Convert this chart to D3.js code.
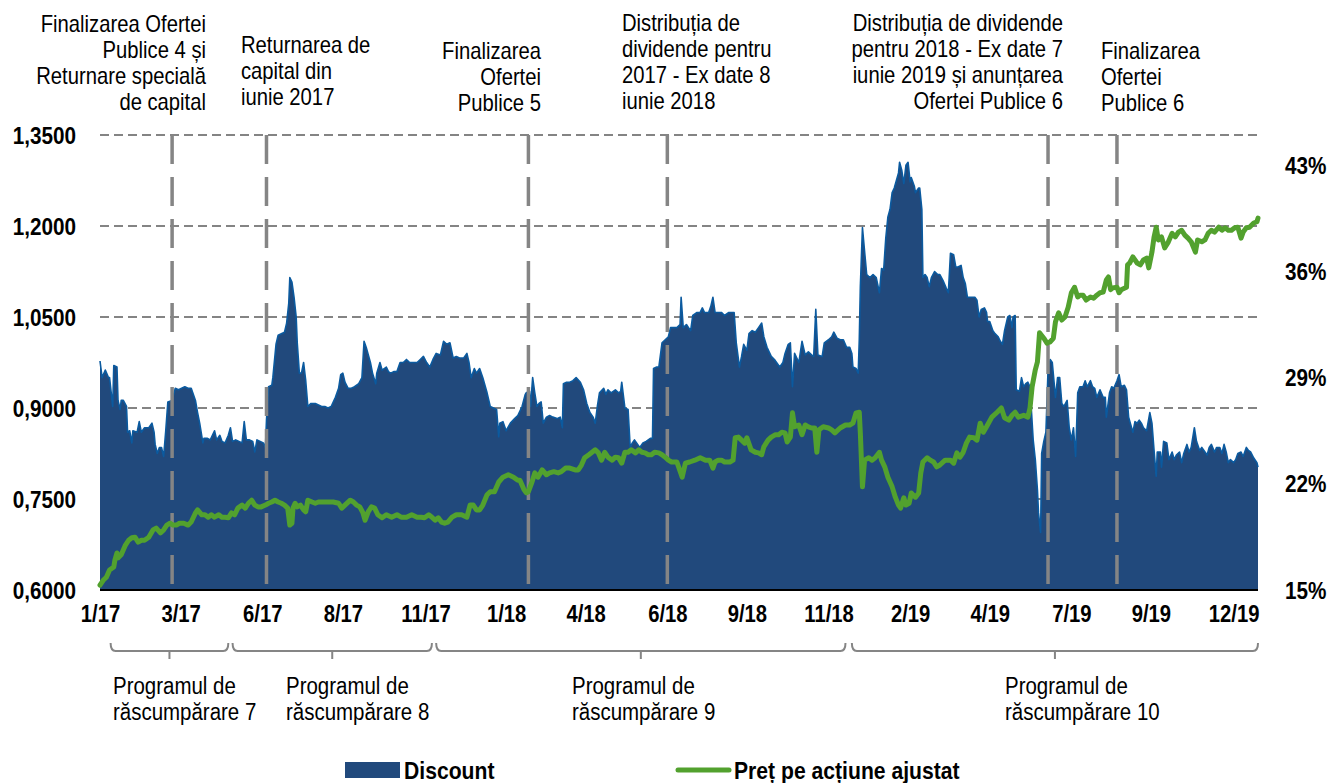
<!DOCTYPE html>
<html><head><meta charset="utf-8">
<script src="https://cdn.jsdelivr.net/npm/d3@7"></script>
<style>
html,body{margin:0;padding:0;background:#fff;}
svg{display:block;}
text{font-family:"Liberation Sans",Arial,sans-serif;fill:#000;}
</style></head><body>
<svg id="chart" width="1329" height="783"></svg>
<script>
// ---------- DATA ----------
// Discount (%), right axis
const discount = [
["2017-01-03",30.1],["2017-01-05",29.0],["2017-01-08",29.5],["2017-01-11",29.0],["2017-01-12",29.0],["2017-01-15",27.1],["2017-01-16",29.8],["2017-01-19",29.7],["2017-01-20",27.5],["2017-01-22",26.9],["2017-01-23",27.5],["2017-01-25",27.5],["2017-01-28",27.1],["2017-01-29",25.4],["2017-01-31",25.5],
["2017-02-02",24.7],["2017-02-03",25.5],["2017-02-07",25.4],["2017-02-09",26.1],["2017-02-11",25.4],["2017-02-14",25.7],["2017-02-18",25.7],["2017-02-21",26.0],["2017-02-23",25.4],["2017-02-24",24.6],["2017-02-26",24.0],["2017-02-28",24.4],
["2017-03-02",24.4],["2017-03-04",23.8],["2017-03-06",25.5],["2017-03-08",27.4],["2017-03-12",27.5],["2017-03-15",28.3],["2017-03-18",28.2],["2017-03-21",28.3],["2017-03-24",28.4],["2017-03-27",28.3],["2017-03-30",28.3],
["2017-04-03",27.5],["2017-04-05",26.7],["2017-04-07",26.0],["2017-04-10",24.7],["2017-04-11",25.0],["2017-04-14",25.0],["2017-04-17",24.9],["2017-04-21",25.5],["2017-04-23",24.9],["2017-04-26",25.2],["2017-04-28",24.8],
["2017-05-01",24.7],["2017-05-04",25.2],["2017-05-06",25.7],["2017-05-08",24.8],["2017-05-11",24.9],["2017-05-14",24.8],["2017-05-17",24.7],["2017-05-19",26.1],["2017-05-21",24.9],["2017-05-24",24.9],["2017-05-27",24.8],["2017-05-29",24.1],["2017-05-31",24.9],
["2017-06-03",24.8],["2017-06-06",24.7],["2017-06-08",24.4],["2017-06-09",26.2],["2017-06-11",28.4],["2017-06-14",28.5],["2017-06-15",29.0],["2017-06-18",31.2],["2017-06-20",31.8],["2017-06-23",31.9],["2017-06-26",32.0],["2017-06-28",32.6],["2017-06-30",33.9],
["2017-07-01",35.6],["2017-07-03",35.3],["2017-07-05",34.3],["2017-07-07",33.0],["2017-07-08",31.3],["2017-07-10",29.3],["2017-07-12",29.3],["2017-07-14",30.0],["2017-07-16",28.8],["2017-07-18",27.1],["2017-07-21",27.3],["2017-07-25",27.3],["2017-07-28",27.2],["2017-07-31",27.1],
["2017-08-03",27.1],["2017-08-06",27.0],["2017-08-09",27.1],["2017-08-13",27.7],["2017-08-16",28.3],["2017-08-18",29.2],["2017-08-20",29.3],["2017-08-22",28.7],["2017-08-25",28.3],["2017-08-28",28.3],["2017-08-31",28.4],
["2017-09-04",28.6],["2017-09-07",29.0],["2017-09-09",31.4],["2017-09-11",31.0],["2017-09-15",30.0],["2017-09-17",29.3],["2017-09-20",28.6],["2017-09-21",29.3],["2017-09-24",30.0],["2017-09-26",29.5],["2017-09-30",29.7],
["2017-10-02",29.4],["2017-10-04",29.3],["2017-10-07",29.4],["2017-10-10",29.4],["2017-10-13",30.0],["2017-10-16",30.0],["2017-10-19",30.2],["2017-10-22",30.0],["2017-10-25",30.0],["2017-10-29",30.0],
["2017-11-01",30.2],["2017-11-04",30.4],["2017-11-07",30.0],["2017-11-10",29.7],["2017-11-13",30.2],["2017-11-16",30.6],["2017-11-20",30.5],["2017-11-23",31.4],["2017-11-26",31.2],["2017-11-29",31.3],
["2017-12-02",30.3],["2017-12-05",30.4],["2017-12-08",30.3],["2017-12-12",30.3],["2017-12-15",30.6],["2017-12-17",30.0],["2017-12-19",29.0],["2017-12-22",29.6],["2017-12-24",29.3],["2017-12-27",29.6],["2017-12-30",29.0],
["2018-01-03",28.0],["2018-01-06",27.1],["2018-01-09",27.0],["2018-01-12",26.9],["2018-01-14",25.1],["2018-01-15",26.0],["2018-01-18",26.1],["2018-01-21",25.5],["2018-01-25",26.0],["2018-01-29",26.3],
["2018-02-01",26.5],["2018-02-05",27.1],["2018-02-08",27.9],["2018-02-09",28.0],["2018-02-12",28.1],["2018-02-13",27.1],["2018-02-15",29.0],["2018-02-17",28.0],["2018-02-19",27.1],["2018-02-21",27.3],["2018-02-23",27.4],["2018-02-25",26.0],["2018-02-28",26.4],
["2018-03-03",26.5],["2018-03-06",26.4],["2018-03-10",26.3],["2018-03-13",26.4],["2018-03-15",25.7],["2018-03-16",28.6],["2018-03-19",28.7],["2018-03-22",28.7],["2018-03-25",28.8],["2018-03-28",29.0],
["2018-04-01",28.7],["2018-04-04",28.2],["2018-04-07",27.3],["2018-04-10",26.7],["2018-04-13",26.4],["2018-04-15",26.0],["2018-04-17",27.1],["2018-04-19",28.0],["2018-04-23",28.3],["2018-04-25",27.9],["2018-04-27",28.2],["2018-04-30",28.0],
["2018-05-04",28.2],["2018-05-07",28.0],["2018-05-09",28.1],["2018-05-10",28.7],["2018-05-13",27.0],["2018-05-16",26.9],["2018-05-18",24.4],["2018-05-20",24.7],["2018-05-22",24.9],["2018-05-25",24.6],["2018-05-27",24.4],["2018-05-30",24.7],
["2018-06-02",24.8],["2018-06-06",25.0],["2018-06-08",25.0],["2018-06-09",29.6],["2018-06-12",29.7],["2018-06-14",29.7],["2018-06-17",31.3],["2018-06-20",31.5],["2018-06-23",31.7],["2018-06-25",32.3],["2018-06-28",32.3],
["2018-07-01",32.3],["2018-07-04",32.5],["2018-07-05",34.3],["2018-07-07",32.3],["2018-07-10",32.5],["2018-07-12",32.3],["2018-07-14",32.1],["2018-07-16",33.1],["2018-07-20",33.3],["2018-07-23",33.3],["2018-07-25",33.6],["2018-07-27",33.3],["2018-07-31",33.3],
["2018-08-02",33.7],["2018-08-04",34.3],["2018-08-06",33.3],["2018-08-09",33.3],["2018-08-12",33.3],["2018-08-15",33.1],["2018-08-19",33.3],["2018-08-22",33.3],["2018-08-24",33.3],["2018-08-26",31.3],["2018-08-29",29.7],["2018-08-31",30.4],
["2018-09-02",31.2],["2018-09-05",30.8],["2018-09-07",31.9],["2018-09-10",32.1],["2018-09-13",32.0],["2018-09-16",32.3],["2018-09-19",32.6],["2018-09-21",31.7],["2018-09-24",31.0],["2018-09-26",30.7],["2018-09-28",30.4],
["2018-10-01",30.2],["2018-10-03",30.0],["2018-10-06",29.7],["2018-10-09",30.0],["2018-10-11",30.6],["2018-10-14",31.2],["2018-10-16",31.3],["2018-10-18",28.4],["2018-10-20",30.6],["2018-10-24",30.0],["2018-10-27",31.4],["2018-10-30",30.5],
["2018-11-02",30.7],["2018-11-05",30.5],["2018-11-07",30.4],["2018-11-09",33.5],["2018-11-11",30.5],["2018-11-15",30.4],["2018-11-17",31.3],["2018-11-21",31.5],["2018-11-24",31.7],["2018-11-26",32.0],["2018-11-29",31.6],
["2018-12-02",31.5],["2018-12-05",31.5],["2018-12-08",31.0],["2018-12-11",31.0],["2018-12-13",30.6],["2018-12-14",29.7],["2018-12-17",29.6],["2018-12-19",29.3],["2018-12-20",31.5],["2018-12-21",35.0],["2018-12-23",38.9],["2018-12-24",38.1],["2018-12-27",35.8],["2018-12-30",35.6],
["2019-01-02",35.8],["2019-01-05",35.6],["2019-01-08",34.6],["2019-01-10",36.2],["2019-01-12",36.1],["2019-01-14",38.2],["2019-01-16",39.6],["2019-01-18",40.1],["2019-01-20",41.2],["2019-01-22",41.5],["2019-01-24",42.0],["2019-01-26",42.5],["2019-01-27",43.2],["2019-01-29",42.7],["2019-01-31",41.8],
["2019-02-02",43.0],["2019-02-04",43.2],["2019-02-06",41.9],["2019-02-07",42.2],["2019-02-10",41.6],["2019-02-11",41.2],["2019-02-14",41.5],["2019-02-15",41.5],["2019-02-17",40.1],["2019-02-18",35.6],["2019-02-20",35.8],["2019-02-22",35.6],["2019-02-24",35.0],["2019-02-26",35.6],
["2019-03-01",36.0],["2019-03-04",35.8],["2019-03-06",35.8],["2019-03-09",35.4],["2019-03-12",34.9],["2019-03-14",34.6],["2019-03-16",37.2],["2019-03-19",37.1],["2019-03-21",36.3],["2019-03-23",36.3],["2019-03-26",36.4],["2019-03-28",35.6],["2019-03-30",35.2],
["2019-04-01",34.3],["2019-04-03",34.3],["2019-04-06",34.3],["2019-04-08",34.3],["2019-04-10",34.1],["2019-04-12",33.0],["2019-04-14",33.5],["2019-04-17",33.6],["2019-04-19",33.3],["2019-04-20",32.7],["2019-04-22",32.7],["2019-04-25",32.1],["2019-04-27",31.9],["2019-04-30",31.7],
["2019-05-02",31.4],["2019-05-04",31.2],["2019-05-06",32.1],["2019-05-09",33.0],["2019-05-11",33.1],["2019-05-13",32.3],["2019-05-14",33.0],["2019-05-16",33.1],["2019-05-17",28.2],["2019-05-20",28.1],["2019-05-22",29.0],["2019-05-24",28.4],["2019-05-26",28.6],["2019-05-28",28.7],["2019-05-30",28.4],
["2019-06-02",24.9],["2019-06-04",23.6],["2019-06-06",21.6],["2019-06-07",20.1],["2019-06-09",18.8],["2019-06-10",24.0],["2019-06-12",24.8],["2019-06-14",25.4],["2019-06-16",29.5],["2019-06-18",30.2],["2019-06-20",30.0],["2019-06-23",27.7],["2019-06-25",29.0],["2019-06-27",29.0],["2019-06-29",27.3],
["2019-07-01",27.1],["2019-07-04",27.5],["2019-07-06",25.7],["2019-07-08",24.9],["2019-07-10",25.7],["2019-07-12",23.8],["2019-07-14",28.0],["2019-07-16",28.4],["2019-07-19",28.4],["2019-07-21",28.8],["2019-07-23",28.4],["2019-07-26",28.8],["2019-07-28",28.4],["2019-07-30",28.3],
["2019-08-01",27.7],["2019-08-04",28.2],["2019-08-07",27.7],["2019-08-09",27.7],["2019-08-10",26.4],["2019-08-13",28.0],["2019-08-15",28.4],["2019-08-17",28.3],["2019-08-20",28.8],["2019-08-22",29.2],["2019-08-24",28.4],["2019-08-27",28.5],["2019-08-29",28.2],["2019-08-31",26.4],
["2019-09-02",25.9],["2019-09-04",25.4],["2019-09-06",26.1],["2019-09-08",26.0],["2019-09-10",26.2],["2019-09-12",26.0],["2019-09-14",25.7],["2019-09-17",25.5],["2019-09-20",26.7],["2019-09-22",26.0],["2019-09-24",24.2],["2019-09-26",22.5],["2019-09-27",24.1],["2019-09-30",24.1],
["2019-10-01",23.1],["2019-10-03",24.8],["2019-10-06",24.7],["2019-10-08",23.6],["2019-10-11",24.1],["2019-10-13",23.6],["2019-10-15",23.9],["2019-10-18",24.1],["2019-10-20",23.4],["2019-10-22",24.0],["2019-10-25",24.6],["2019-10-27",24.1],["2019-10-29",24.4],
["2019-11-01",25.7],["2019-11-03",24.8],["2019-11-06",24.2],["2019-11-08",24.4],["2019-11-10",24.2],["2019-11-13",23.9],["2019-11-15",24.4],["2019-11-17",24.6],["2019-11-20",24.1],["2019-11-22",24.4],["2019-11-25",24.4],["2019-11-27",24.0],["2019-11-29",24.6],
["2019-12-01",24.1],["2019-12-03",23.4],["2019-12-05",23.6],["2019-12-08",23.4],["2019-12-10",23.6],["2019-12-12",24.0],["2019-12-15",24.1],["2019-12-17",23.8],["2019-12-20",24.4],["2019-12-22",24.2],["2019-12-24",24.1],["2019-12-27",23.7],["2019-12-30",23.4],["2019-12-31",23.1]
];

// Adjusted price per share, left axis
const price = [
["2017-01-03",0.608],["2017-01-06",0.616],["2017-01-09",0.621],["2017-01-12",0.633],["2017-01-16",0.638],["2017-01-17",0.649],["2017-01-19",0.661],["2017-01-20",0.653],["2017-01-23",0.658],["2017-01-27",0.674],["2017-01-30",0.682],
["2017-02-02",0.686],["2017-02-05",0.687],["2017-02-08",0.679],["2017-02-11",0.682],["2017-02-14",0.682],["2017-02-18",0.687],["2017-02-22",0.699],["2017-02-25",0.702],
["2017-03-01",0.694],["2017-03-04",0.699],["2017-03-07",0.707],["2017-03-10",0.710],["2017-03-13",0.707],["2017-03-16",0.707],["2017-03-19",0.710],["2017-03-23",0.710],["2017-03-27",0.707],["2017-03-30",0.712],
["2017-04-03",0.727],["2017-04-05",0.732],["2017-04-09",0.724],["2017-04-12",0.724],["2017-04-15",0.720],["2017-04-18",0.724],["2017-04-21",0.720],["2017-04-25",0.724],["2017-04-28",0.720],
["2017-05-01",0.720],["2017-05-04",0.719],["2017-05-07",0.727],["2017-05-10",0.724],["2017-05-13",0.735],["2017-05-17",0.740],["2017-05-20",0.735],["2017-05-23",0.743],["2017-05-26",0.748],["2017-05-29",0.740],
["2017-06-01",0.737],["2017-06-04",0.737],["2017-06-08",0.740],["2017-06-11",0.743],["2017-06-14",0.745],["2017-06-17",0.748],["2017-06-20",0.745],["2017-06-23",0.743],["2017-06-26",0.740],["2017-06-29",0.735],
["2017-07-01",0.707],["2017-07-03",0.710],["2017-07-04",0.735],["2017-07-06",0.743],["2017-07-08",0.737],["2017-07-11",0.740],["2017-07-14",0.732],["2017-07-16",0.729],["2017-07-18",0.748],["2017-07-22",0.745],["2017-07-25",0.743],["2017-07-28",0.745],
["2017-08-02",0.745],["2017-08-06",0.745],["2017-08-11",0.745],["2017-08-16",0.743],["2017-08-19",0.735],["2017-08-22",0.740],["2017-08-27",0.748],["2017-08-30",0.745],
["2017-09-02",0.740],["2017-09-05",0.737],["2017-09-08",0.727],["2017-09-10",0.715],["2017-09-13",0.729],["2017-09-16",0.737],["2017-09-19",0.735],["2017-09-22",0.724],["2017-09-26",0.719],["2017-09-30",0.724],
["2017-10-05",0.720],["2017-10-10",0.724],["2017-10-14",0.720],["2017-10-19",0.720],["2017-10-24",0.724],["2017-10-29",0.720],
["2017-11-02",0.720],["2017-11-05",0.719],["2017-11-09",0.724],["2017-11-12",0.720],["2017-11-15",0.715],["2017-11-18",0.719],["2017-11-21",0.712],["2017-11-24",0.710],["2017-11-27",0.712],
["2017-12-01",0.720],["2017-12-05",0.724],["2017-12-10",0.724],["2017-12-15",0.720],["2017-12-18",0.740],["2017-12-21",0.740],["2017-12-24",0.732],["2017-12-27",0.732],["2017-12-30",0.740],
["2018-01-03",0.757],["2018-01-06",0.762],["2018-01-10",0.762],["2018-01-14",0.778],["2018-01-18",0.786],["2018-01-23",0.790],["2018-01-28",0.786],
["2018-02-01",0.781],["2018-02-03",0.781],["2018-02-07",0.765],["2018-02-09",0.760],["2018-02-11",0.762],["2018-02-14",0.776],["2018-02-17",0.793],["2018-02-20",0.786],["2018-02-24",0.798],["2018-02-28",0.790],
["2018-03-03",0.793],["2018-03-07",0.795],["2018-03-11",0.793],["2018-03-14",0.795],["2018-03-18",0.801],["2018-03-22",0.801],["2018-03-27",0.798],["2018-03-30",0.798],
["2018-04-02",0.806],["2018-04-05",0.818],["2018-04-09",0.823],["2018-04-12",0.827],["2018-04-15",0.831],["2018-04-18",0.826],["2018-04-21",0.814],["2018-04-24",0.827],["2018-04-27",0.819],
["2018-05-01",0.814],["2018-05-04",0.819],["2018-05-07",0.818],["2018-05-10",0.809],["2018-05-13",0.827],["2018-05-16",0.827],["2018-05-19",0.831],["2018-05-23",0.826],["2018-05-26",0.831],["2018-05-29",0.827],
["2018-06-01",0.826],["2018-06-04",0.823],["2018-06-07",0.823],["2018-06-10",0.827],["2018-06-14",0.826],["2018-06-17",0.823],["2018-06-20",0.819],["2018-06-23",0.814],["2018-06-26",0.811],
["2018-07-01",0.811],["2018-07-06",0.786],["2018-07-09",0.809],["2018-07-13",0.811],["2018-07-18",0.814],["2018-07-23",0.818],["2018-07-28",0.814],
["2018-08-01",0.814],["2018-08-04",0.801],["2018-08-06",0.811],["2018-08-09",0.814],["2018-08-12",0.814],["2018-08-15",0.811],["2018-08-20",0.811],["2018-08-23",0.814],["2018-08-25",0.851],["2018-08-28",0.852],["2018-08-31",0.847],
["2018-09-03",0.842],["2018-09-05",0.851],["2018-09-09",0.831],["2018-09-13",0.827],["2018-09-16",0.826],["2018-09-19",0.823],["2018-09-21",0.836],["2018-09-25",0.847],["2018-09-28",0.852],
["2018-10-02",0.856],["2018-10-05",0.856],["2018-10-08",0.860],["2018-10-11",0.859],["2018-10-13",0.844],["2018-10-16",0.852],["2018-10-18",0.892],["2018-10-20",0.869],["2018-10-24",0.872],["2018-10-27",0.856],["2018-10-30",0.872],
["2018-11-02",0.869],["2018-11-05",0.867],["2018-11-08",0.867],["2018-11-10",0.827],["2018-11-12",0.864],["2018-11-16",0.869],["2018-11-21",0.867],["2018-11-24",0.864],["2018-11-27",0.859],
["2018-12-02",0.867],["2018-12-07",0.872],["2018-12-11",0.872],["2018-12-14",0.875],["2018-12-17",0.892],["2018-12-20",0.893],["2018-12-21",0.859],["2018-12-23",0.770],["2018-12-25",0.814],["2018-12-29",0.818],
["2019-01-01",0.814],["2019-01-04",0.818],["2019-01-08",0.827],["2019-01-10",0.814],["2019-01-13",0.803],["2019-01-16",0.786],["2019-01-20",0.770],["2019-01-23",0.753],["2019-01-26",0.740],["2019-01-28",0.735],["2019-01-31",0.752],
["2019-02-02",0.740],["2019-02-05",0.743],["2019-02-07",0.760],["2019-02-11",0.753],["2019-02-14",0.760],["2019-02-16",0.793],["2019-02-18",0.811],["2019-02-22",0.818],["2019-02-25",0.814],["2019-02-28",0.811],
["2019-03-03",0.803],["2019-03-06",0.806],["2019-03-11",0.814],["2019-03-16",0.814],["2019-03-19",0.809],["2019-03-22",0.826],["2019-03-25",0.819],["2019-03-28",0.827],["2019-03-31",0.842],
["2019-04-03",0.852],["2019-04-07",0.851],["2019-04-10",0.847],["2019-04-13",0.875],["2019-04-16",0.860],["2019-04-19",0.869],["2019-04-24",0.885],["2019-04-29",0.893],
["2019-05-03",0.900],["2019-05-06",0.884],["2019-05-10",0.880],["2019-05-13",0.888],["2019-05-16",0.893],["2019-05-19",0.885],["2019-05-24",0.888],["2019-05-28",0.885],["2019-05-30",0.900],
["2019-06-01",0.935],["2019-06-04",0.963],["2019-06-06",0.976],["2019-06-08",1.024],["2019-06-12",1.015],["2019-06-15",1.007],["2019-06-18",1.009],["2019-06-21",1.015],["2019-06-23",1.042],["2019-06-26",1.057],["2019-06-29",1.045],
["2019-07-02",1.050],["2019-07-05",1.066],["2019-07-08",1.090],["2019-07-11",1.099],["2019-07-14",1.083],["2019-07-16",1.086],["2019-07-19",1.086],["2019-07-22",1.078],["2019-07-26",1.083],["2019-07-29",1.081],
["2019-08-01",1.086],["2019-08-04",1.090],["2019-08-07",1.091],["2019-08-10",1.111],["2019-08-12",1.116],["2019-08-14",1.095],["2019-08-16",1.098],["2019-08-20",1.099],["2019-08-22",1.090],["2019-08-24",1.095],["2019-08-29",1.099],["2019-08-30",1.136],
["2019-09-01",1.139],["2019-09-04",1.149],["2019-09-08",1.139],["2019-09-11",1.136],["2019-09-14",1.144],["2019-09-17",1.147],["2019-09-19",1.131],["2019-09-22",1.157],["2019-09-24",1.182],["2019-09-26",1.198],["2019-09-28",1.177],
["2019-10-01",1.182],["2019-10-04",1.164],["2019-10-07",1.172],["2019-10-11",1.188],["2019-10-14",1.182],["2019-10-17",1.190],["2019-10-20",1.193],["2019-10-23",1.185],["2019-10-26",1.180],["2019-10-29",1.174],
["2019-11-02",1.157],["2019-11-04",1.177],["2019-11-08",1.174],["2019-11-11",1.177],["2019-11-14",1.188],["2019-11-17",1.193],["2019-11-20",1.190],["2019-11-24",1.198],["2019-11-27",1.193],["2019-11-30",1.197],
["2019-12-03",1.193],["2019-12-06",1.193],["2019-12-09",1.197],["2019-12-12",1.198],["2019-12-15",1.180],["2019-12-17",1.190],["2019-12-20",1.197],["2019-12-23",1.198],["2019-12-27",1.205],["2019-12-30",1.207],["2019-12-31",1.213]
];

const xDomain = ["2017-01-03","2019-12-31"];
const xTickDates  = ["2017-01-03","2017-03-20","2017-06-05","2017-08-20","2017-11-06","2018-01-21","2018-04-06","2018-06-22","2018-09-05","2018-11-21","2019-02-06","2019-04-22","2019-07-08","2019-09-21","2019-12-08"];
const xTickLabels = ["1/17","3/17","6/17","8/17","11/17","1/18","4/18","6/18","9/18","11/18","2/19","4/19","7/19","9/19","12/19"];
const leftTicks = [0.6,0.75,0.9,1.05,1.2,1.35];
const leftTickLabels = ["0,6000","0,7500","0,9000","1,0500","1,2000","1,3500"];
const rightTicks = [15,22,29,36,43];
const rightTickLabels = ["15%","22%","29%","36%","43%"];
const rightDomain = [15,45];
const leftDomain = [0.6,1.35];

const eventDates = ["2017-03-12","2017-06-09","2018-02-11","2018-06-22","2019-06-16","2019-08-20"];
const eventTexts = [
  ["Finalizarea Ofertei","Publice 4 și","Returnare specială","de capital"],
  ["Returnarea de","capital din","iunie 2017"],
  ["Finalizarea","Ofertei","Publice 5"],
  ["Distribuția de","dividende pentru","2017 - Ex date 8","iunie 2018"],
  ["Distribuția de dividende","pentru 2018 - Ex date 7","iunie 2019 și anunțarea","Ofertei Publice 6"],
  ["Finalizarea","Ofertei","Publice 6"]
];
const programStarts = ["2017-01-13","2017-05-08","2017-11-16","2018-12-13"];
const programEnds   = ["2017-05-04","2017-11-12","2018-12-07","2019-12-31"];
const programTexts = [
  ["Programul de","răscumpărare 7"],
  ["Programul de","răscumpărare 8"],
  ["Programul de","răscumpărare 9"],
  ["Programul de","răscumpărare 10"]
];
const legendLabels = ["Discount","Preț pe acțiune ajustat"];

// ---------- LAYOUT ----------
const plot = {left:100, right:1258, top:135, bottom:590};
const annLayout = [
  {x:206, y:32, anchor:"end"},
  {x:241, y:53, anchor:"start"},
  {x:541, y:59, anchor:"end"},
  {x:622, y:31, anchor:"start"},
  {x:1063, y:31, anchor:"end"},
  {x:1101, y:59, anchor:"start"}
];
const annLineH = 26;
const progLabelX = [113, 286, 572, 1005];
const colors = {area:"#21497c", areaEdge:"#0b5a9f", green:"#52a12e", grid:"#848484", event:"#858585", bracket:"#858585"};
const SX = 0.88, FS = 23;

const parse = d3.timeParse("%Y-%m-%d");
const svg = d3.select("#chart");

const x = d3.scaleTime().domain(xDomain.map(parse)).range([plot.left, plot.right]);
const yL = d3.scaleLinear().domain(leftDomain).range([plot.bottom, plot.top]);
const yR = d3.scaleLinear().domain(rightDomain).range([plot.bottom, plot.top]);

function txt(parent, px, py, s, opt={}) {
  return parent.append("text")
    .attr("transform", `translate(${px},${py}) scale(${opt.sx ?? SX},1)`)
    .attr("text-anchor", opt.anchor || "start")
    .attr("font-weight", opt.weight || "normal")
    .attr("font-size", opt.size || FS)
    .text(s);
}

// grid lines (left axis values)
svg.append("g").selectAll("line").data(leftTicks.slice(1)).join("line")
  .attr("x1", plot.left).attr("x2", plot.right + 3)
  .attr("y1", d => yL(d)).attr("y2", d => yL(d))
  .attr("stroke", colors.grid).attr("stroke-width", 2).attr("stroke-dasharray", "9,5");

// discount area
const dData = discount.map(d => ({date: parse(d[0]), v: d[1]}));
const area = d3.area().x(d => x(d.date)).y0(yR(rightDomain[0])).y1(d => yR(d.v));
svg.append("path").datum(dData).attr("d", area).attr("fill", colors.area);
svg.append("path").datum(dData)
  .attr("d", d3.line().x(d => x(d.date)).y(d => yR(d.v)))
  .attr("fill", "none").attr("stroke", colors.areaEdge).attr("stroke-width", 1.6).attr("stroke-linejoin","round");

// event lines
svg.append("g").selectAll("line").data(eventDates).join("line")
  .attr("x1", d => x(parse(d))).attr("x2", d => x(parse(d)))
  .attr("y1", plot.top).attr("y2", plot.bottom)
  .attr("stroke", colors.event).attr("stroke-width", 3.5).attr("stroke-dasharray", "29,13");

// price line
const pData = price.map(d => ({date: parse(d[0]), v: d[1]}));
svg.append("path").datum(pData)
  .attr("d", d3.line().x(d => x(d.date)).y(d => yL(d.v)))
  .attr("fill", "none").attr("stroke", colors.green).attr("stroke-width", 5)
  .attr("stroke-linejoin", "round").attr("stroke-linecap", "round");

// x axis
const xAxis = d3.axisBottom(x).tickValues(xTickDates.map(parse)).tickFormat((d,i) => xTickLabels[i]).tickSize(0).tickPadding(0);
const xg = svg.append("g").attr("transform", `translate(0,${plot.bottom})`).call(xAxis);
xg.select(".domain").remove();
xg.selectAll(".tick text").remove();
xg.selectAll(".tick").each(function(d,i){
  txt(d3.select(this), 0, 32, xTickLabels[i], {anchor:"middle", weight:"bold"});
});
svg.append("line").attr("x1", plot.left).attr("x2", plot.right).attr("y1", plot.bottom).attr("y2", plot.bottom)
  .attr("stroke", "#000").attr("stroke-width", 2);

// left axis labels
const ylg = svg.append("g").attr("transform", `translate(${plot.left},0)`).call(d3.axisLeft(yL).tickValues(leftTicks).tickSize(0));
ylg.select(".domain").remove();
ylg.selectAll(".tick text").remove();
ylg.selectAll(".tick").each(function(d,i){
  txt(d3.select(this), -24, 8, leftTickLabels[i], {anchor:"end", weight:"bold", sx:0.9});
});

// right axis labels
const yrg = svg.append("g").attr("transform", `translate(${plot.right},0)`).call(d3.axisRight(yR).tickValues(rightTicks).tickSize(0));
yrg.select(".domain").remove();
yrg.selectAll(".tick text").remove();
yrg.selectAll(".tick").each(function(d,i){
  txt(d3.select(this), 27, 8, rightTickLabels[i], {anchor:"start", weight:"bold", sx:0.9});
});

// annotations
eventTexts.forEach((lines, i) => {
  const L = annLayout[i];
  lines.forEach((s, j) => txt(svg, L.x, L.y + j*annLineH, s, {anchor:L.anchor}));
});

// programme brackets
const bg = svg.append("g").attr("fill","none").attr("stroke", colors.bracket).attr("stroke-width", 2);
programStarts.forEach((s, i) => {
  const x1 = x(parse(s)), x2 = x(parse(programEnds[i]));
  const mid = (x1 + x2) / 2, yb = 651;
  bg.append("path").attr("d",
    `M${x1},${yb-8} Q${x1},${yb} ${x1+5},${yb} L${x2-5},${yb} Q${x2},${yb} ${x2},${yb-8} M${mid},${yb} L${mid},${yb+8}`);
  programTexts[i].forEach((t, j) => txt(svg, progLabelX[i], 694 + j*26, t, {sx:0.89}));
});

// legend
svg.append("rect").attr("x", 345).attr("y", 762).attr("width", 55).attr("height", 16).attr("fill", colors.area);
txt(svg, 404, 779, legendLabels[0], {weight:"bold", sx:0.92});
svg.append("line").attr("x1", 678).attr("x2", 729).attr("y1", 770).attr("y2", 770)
  .attr("stroke", colors.green).attr("stroke-width", 5).attr("stroke-linecap","round");
txt(svg, 734, 779, legendLabels[1], {weight:"bold", sx:0.92});
</script>
</body></html>
